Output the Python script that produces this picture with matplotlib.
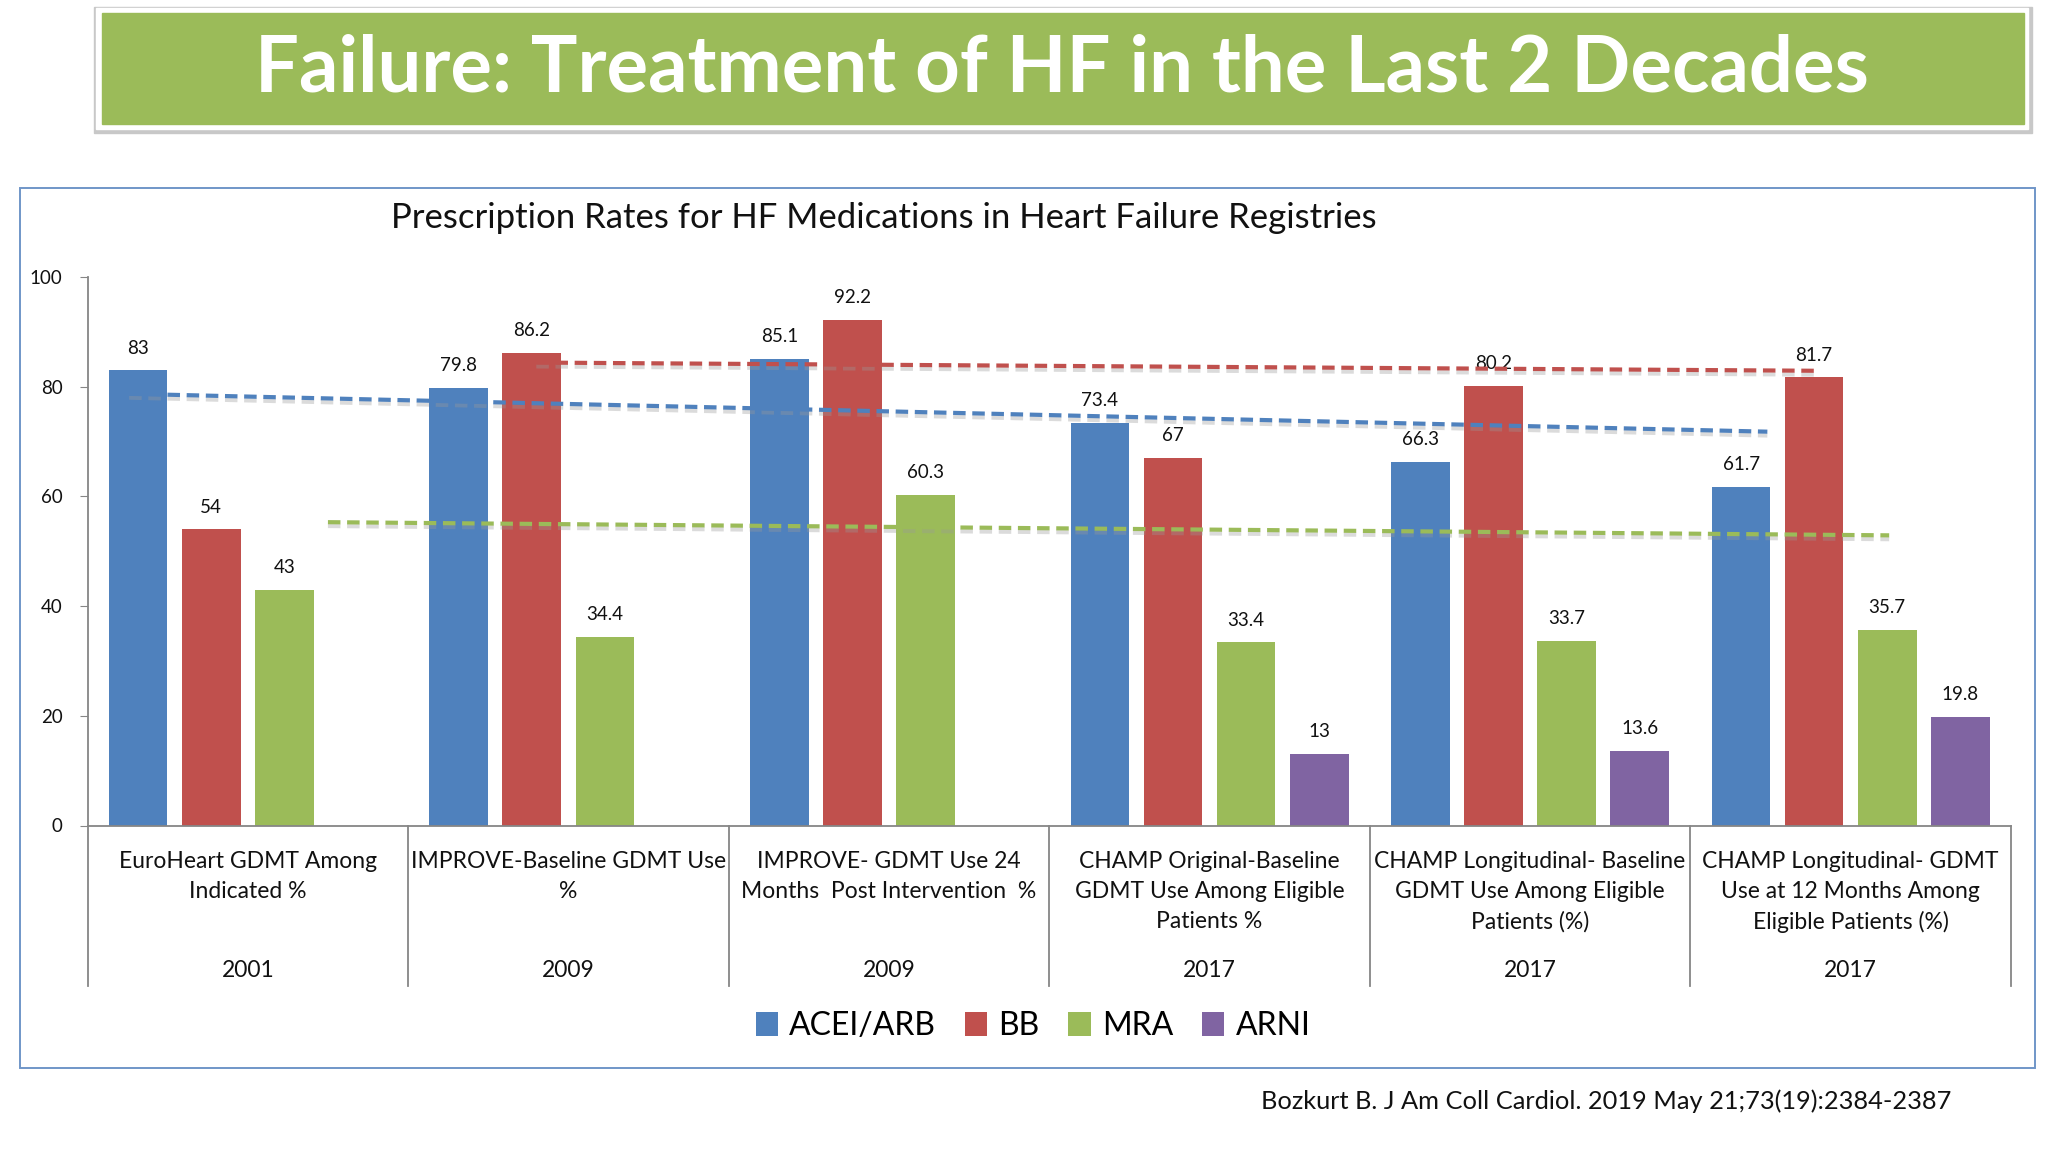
import numpy as np
import matplotlib
matplotlib.use('Agg')
from matplotlib import pyplot as plt
from matplotlib.patches import Rectangle
import matplotlib.transforms as mtransforms

plt.rcParams['font.family'] = ['Lato', 'DejaVu Sans']

# data
categories = ['EuroHeart GDMT Among\nIndicated %',
              'IMPROVE-Baseline GDMT Use\n%',
              'IMPROVE- GDMT Use 24\nMonths  Post Intervention  %',
              'CHAMP Original-Baseline\nGDMT Use Among Eligible\nPatients %',
              'CHAMP Longitudinal- Baseline\nGDMT Use Among Eligible\nPatients (%)',
              'CHAMP Longitudinal- GDMT\nUse at 12 Months Among\nEligible Patients (%)']
years = ['2001', '2009', '2009', '2017', '2017', '2017']
series = ['ACEI/ARB', 'BB', 'MRA', 'ARNI']
acei = [83, 79.8, 85.1, 73.4, 66.3, 61.7]
bb = [54, 86.2, 92.2, 67, 80.2, 81.7]
mra = [43, 34.4, 60.3, 33.4, 33.7, 35.7]
arni = [np.nan, np.nan, np.nan, 13, 13.6, 19.8]
labels = [['83', '79.8', '85.1', '73.4', '66.3', '61.7'],
          ['54', '86.2', '92.2', '67', '80.2', '81.7'],
          ['43', '34.4', '60.3', '33.4', '33.7', '35.7'],
          ['', '', '', '13', '13.6', '19.8']]

# hand drawn trend lines (category units, value)
acei_trend_x = [-0.37, 4.74]
acei_trend_y = [78.7, 71.8]
bb_trend_x = [0.90, 4.90]
bb_trend_y = [84.4, 82.9]
mra_trend_x = [0.25, 5.12]
mra_trend_y = [55.3, 52.9]

colors = ['#4F81BD', '#C0504D', '#9BBB59', '#8064A2']
W, H = 2048, 1152

fig = plt.figure(figsize=(W / 100, H / 100), dpi=100)

# banner
fig.patches.append(Rectangle((94 / W, 1 - 133 / H), 1938 / W, 126 / H,
                             transform=fig.transFigure, color='#C8C8C8', zorder=0))
fig.patches.append(Rectangle((96 / W, 1 - 129 / H), 1932 / W, 121 / H,
                             transform=fig.transFigure, color='white', zorder=1))
fig.patches.append(Rectangle((102 / W, 1 - 124 / H), 1922 / W, 111 / H,
                             transform=fig.transFigure, color='#9BBB59', zorder=2))
fig.text(1062 / W, 1 - 70 / H, 'Failure: Treatment of HF in the Last 2 Decades',
         ha='center', va='center', color='white', fontsize=56, fontweight='bold', zorder=3)

# chart frame
fig.patches.append(Rectangle((20 / W, 1 - 1068 / H), 2015 / W, 880 / H,
                             transform=fig.transFigure, fill=False,
                             edgecolor='#7096C8', lw=1.4, zorder=1))
fig.text(884 / W, 1 - 218 / H,
         'Prescription Rates for HF Medications in Heart Failure Registries',
         ha='center', va='center', fontsize=25, color='#111111')

ax = fig.add_axes([87.5 / W, 1 - 825.5 / H, 1923.5 / W, 548.5 / H])
x = np.arange(len(categories))
slot = 0.228
bw = 0.183
vals = [acei, bb, mra, arni]
handles = []
for j, (v, c) in enumerate(zip(vals, colors)):
    pos = x + (j - 1.5) * slot
    b = ax.bar(pos, v, width=bw, color=c, label=series[j], zorder=2)
    handles.append(b)
    for p, val, lab in zip(pos, v, labels[j]):
        if lab:
            ax.text(p, val + 2.5, lab, ha='center', va='bottom', fontsize=13.5, color='#111111')

for tx, ty, c in [(acei_trend_x, acei_trend_y, colors[0]),
                  (bb_trend_x, bb_trend_y, colors[1]),
                  (mra_trend_x, mra_trend_y, colors[2])]:
    ax.plot(tx, np.array(ty) - 0.7, color='#9a9a9a', alpha=0.35, lw=3,
            dashes=(3, 1.6), zorder=3)
    ax.plot(tx, ty, color=c, lw=3, dashes=(3, 1.6), zorder=4)

ax.set_xlim(-0.5, len(categories) - 0.5)
ax.set_ylim(0, 100)
ax.set_yticks([0, 20, 40, 60, 80, 100])
ax.tick_params(axis='y', labelsize=13.5, length=6, color='#868686', labelcolor='#111111', pad=12)
ax.set_xticks([])
for s in ['top', 'right']:
    ax.spines[s].set_visible(False)
for s in ['left', 'bottom']:
    ax.spines[s].set_color('#868686')
    ax.spines[s].set_linewidth(1.3)

trans = mtransforms.blended_transform_factory(ax.transData, ax.transAxes)
for b in np.arange(len(categories) + 1) - 0.5:
    ax.plot([b, b], [0, -0.2926], transform=trans, color='#868686', lw=1.3,
            clip_on=False)
for i, (cat, yr) in enumerate(zip(categories, years)):
    ax.text(i, -0.046, cat, transform=trans, ha='center', va='top', fontsize=16.5,
            linespacing=1.53, color='#111111')
    ax.text(i, -0.264, yr, transform=trans, ha='center', va='center', fontsize=16.5,
            color='#111111')

fig.legend(handles=handles, labels=series, loc='center', bbox_to_anchor=(1033 / W, 1 - 1026 / H),
           ncol=4, frameon=False, fontsize=23, handlelength=0.7, handleheight=0.8,
           handletextpad=0.35, columnspacing=0.9)

fig.text(1951 / W, 1 - 1101 / H, 'Bozkurt B. J Am Coll Cardiol. 2019 May 21;73(19):2384-2387',
         ha='right', va='center', fontsize=18.3, color='#111111')

fig.savefig('out.png', dpi=100)
